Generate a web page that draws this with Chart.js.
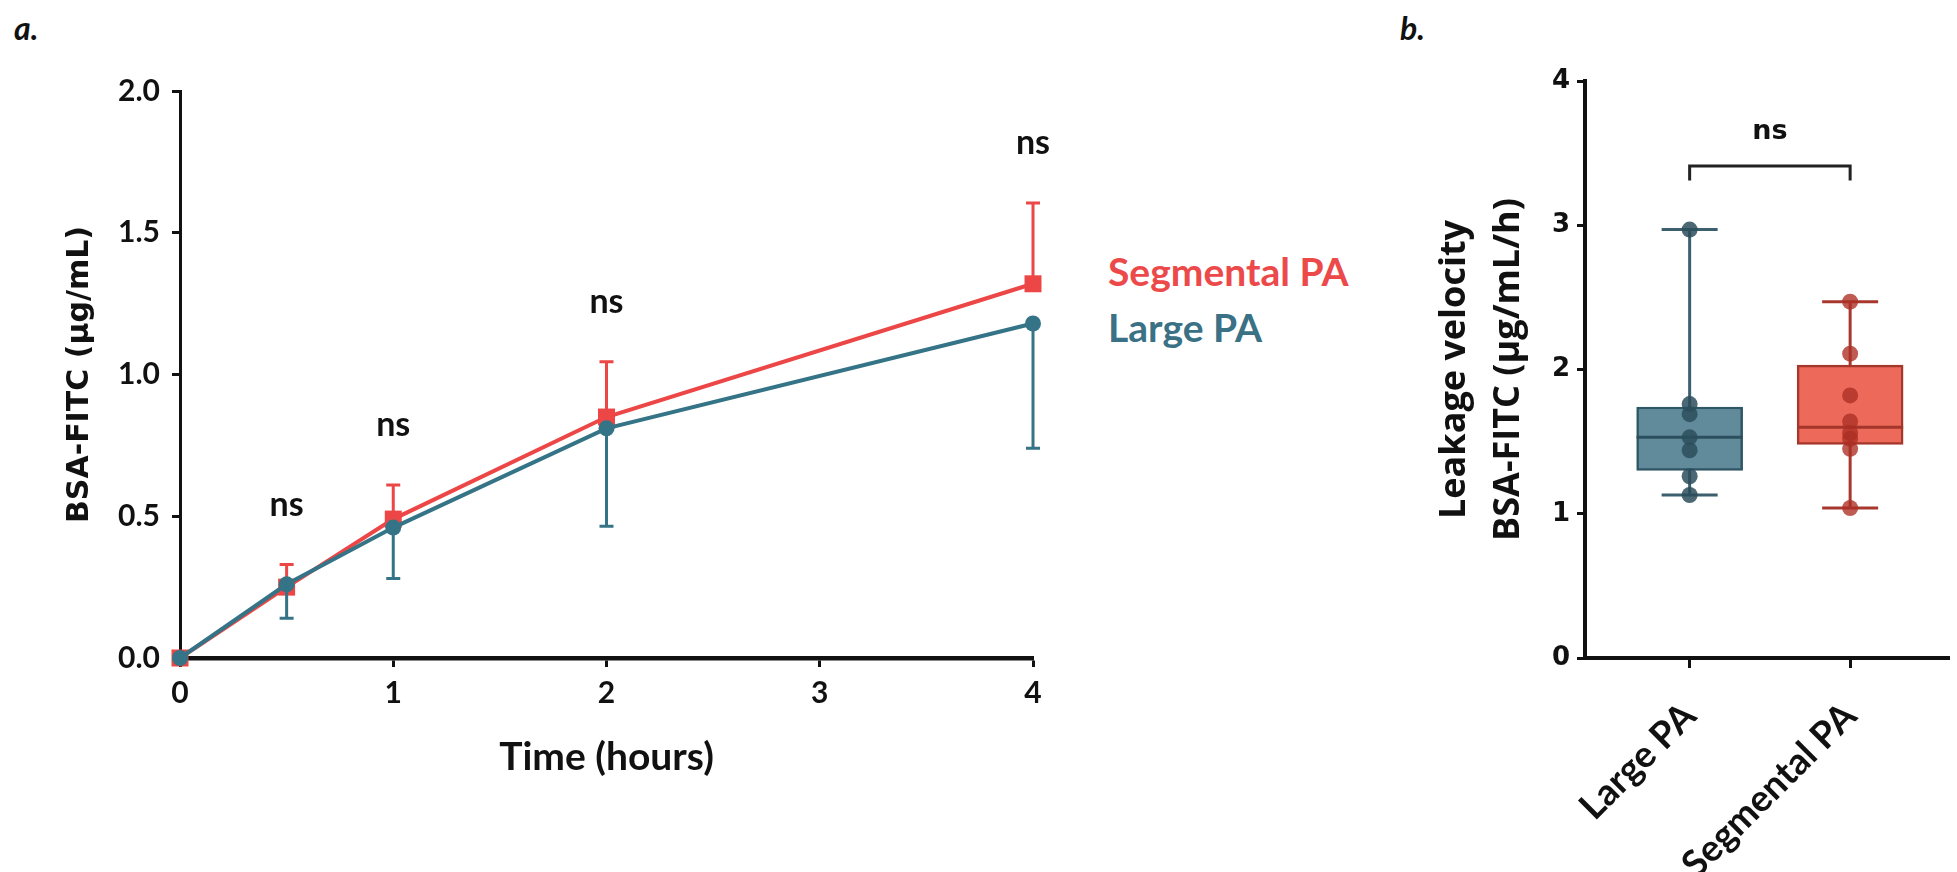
<!DOCTYPE html>
<html>
<head>
<meta charset="utf-8">
<script src="https://cdn.jsdelivr.net/npm/chart.js@4/dist/chart.umd.min.js"></script>
<style>
  html, body { margin: 0; padding: 0; background: #ffffff; width: 1957px; height: 872px; overflow: hidden; }
  .panel { position: absolute; top: 0; }
  #wa { left: 0; width: 1100px; height: 872px; }
  #wb { left: 1380px; width: 577px; height: 872px; }
  .tag { position: absolute; font-family: Lato, sans-serif; font-weight: bold; font-style: italic; font-size: 32px; line-height: 32px; color: #111; }
  .leg { position: absolute; font-family: Lato, sans-serif; font-weight: bold; font-size: 39px; line-height: 39px; white-space: nowrap; }
</style>
</head>
<body>
<div class="tag" style="left:14px; top:12px;">a.</div>
<div class="tag" style="left:1400px; top:12px;">b.</div>
<div class="leg" style="left:1108px; top:252px; color:#ec4a4a;">Segmental PA</div>
<div class="leg" style="left:1108px; top:308px; color:#3a7184;">Large PA</div>
<div class="panel" id="wa"><canvas id="ca" width="1100" height="872"></canvas></div>
<div class="panel" id="wb"><canvas id="cb" width="577" height="872"></canvas></div>
<script>
// ---------- Panel a data ----------
const times = [0, 0.5, 1, 2, 4];
const segmentalMean = [0, 0.25, 0.49, 0.85, 1.32];
const segmentalSD = [0, 0.08, 0.12, 0.195, 0.285];
const largeMean = [0, 0.26, 0.46, 0.81, 1.18];
const largeSD = [0, 0.12, 0.18, 0.345, 0.44];
const timeTicks = [0, 1, 2, 3, 4];
const concTicks = [0, 0.5, 1.0, 1.5, 2.0];

// ---------- Panel b data ----------
const groups = ['Large PA', 'Segmental PA'];
const groupPos = [1, 2];
const largePoints = [2.97, 1.76, 1.69, 1.53, 1.44, 1.26, 1.13];
const segmentalPoints = [2.47, 2.11, 1.82, 1.64, 1.56, 1.52, 1.45, 1.04];
const boxQ1 = [1.30, 1.48];
const boxMedian = [1.53, 1.60];
const boxQ3 = [1.74, 2.03];
const whiskerMin = [1.13, 1.04];
const whiskerMax = [2.97, 2.47];
const velocityTicks = [0, 1, 2, 3, 4];

// ---------- styles ----------
const RED = '#ec4646';
const TEAL = '#357487';
const INK = '#111111';
const whiskerColors = ['#3b5f6d', '#a8382d'];
const medianColors = ['#2c4f5d', '#a3352a'];

Chart.defaults.font.family = 'Lato, sans-serif';
Chart.defaults.color = INK;

const errorBars = {
  id: 'errorBars',
  afterDatasetDraw(chart, args) {
    const ds = chart.data.datasets[args.index];
    if (!ds.errorValues) return;
    const ys = chart.scales.y, ctx = chart.ctx;
    ctx.save();
    ctx.strokeStyle = ds.borderColor;
    ctx.lineWidth = 3;
    args.meta.data.forEach((pt, i) => {
      const e = ds.errorValues[i];
      if (!e) return;
      const end = ys.getPixelForValue(ds.data[i].y + ds.errorDirection * e);
      ctx.beginPath();
      ctx.moveTo(pt.x, pt.y);
      ctx.lineTo(pt.x, end);
      ctx.moveTo(pt.x - 7, end);
      ctx.lineTo(pt.x + 7, end);
      ctx.stroke();
    });
    ctx.restore();
  }
};

const nsLabelsA = {
  id: 'nsLabelsA',
  afterDatasetsDraw(chart) {
    const xs = chart.scales.x, ys = chart.scales.y, ctx = chart.ctx;
    ctx.save();
    ctx.font = 'bold 34px Lato, sans-serif';
    ctx.fillStyle = INK;
    ctx.textAlign = 'center';
    ctx.textBaseline = 'middle';
    times.forEach((t, i) => {
      if (t === 0) return;
      const top = Math.max(segmentalMean[i] + segmentalSD[i], largeMean[i]);
      ctx.fillText('ns', xs.getPixelForValue(t), ys.getPixelForValue(top + 0.21));
    });
    ctx.restore();
  }
};

new Chart(document.getElementById('ca'), {
  type: 'line',
  data: {
    datasets: [
      {
        label: 'Large PA',
        data: times.map((t, i) => ({ x: t, y: largeMean[i] })),
        borderColor: TEAL, backgroundColor: TEAL,
        borderWidth: 4, pointStyle: 'circle', pointRadius: 8, pointBorderWidth: 0,
        errorValues: largeSD, errorDirection: -1,
        order: 1, clip: false, tension: 0
      },
      {
        label: 'Segmental PA',
        data: times.map((t, i) => ({ x: t, y: segmentalMean[i] })),
        borderColor: RED, backgroundColor: RED,
        borderWidth: 4, pointStyle: 'rect', pointRadius: 12, pointBorderWidth: 0,
        errorValues: segmentalSD, errorDirection: 1,
        order: 2, clip: false, tension: 0
      }
    ]
  },
  options: {
    responsive: false, animation: false, events: [],
    layout: { padding: { top: 91, right: 67, left: 0, bottom: 0 } },
    plugins: { legend: { display: false }, tooltip: { enabled: false } },
    scales: {
      x: {
        type: 'linear', min: 0, max: 4, offset: false,
        afterBuildTicks(s) { s.ticks = timeTicks.map(v => ({ value: v })); },
        afterFit(s) { s.height = 214; s.paddingLeft = 0; s.paddingRight = 0; },
        border: { display: true, color: INK, width: 4.5 },
        grid: { display: true, offset: false, drawOnChartArea: false, drawTicks: true, tickLength: 9, tickWidth: 3, tickColor: INK },
        ticks: { color: INK, font: { size: 30, weight: 'bold' }, padding: 8, maxRotation: 0, autoSkip: false },
        title: { display: true, text: 'Time (hours)', color: INK, font: { size: 39, weight: 'bold' }, padding: { top: 0, bottom: 91 } }
      },
      y: {
        min: 0, max: 2,
        afterBuildTicks(s) { s.ticks = concTicks.map(v => ({ value: v })); },
        afterFit(s) { s.width = 180; s.paddingTop = 0; s.paddingBottom = 0; },
        border: { display: true, color: INK, width: 3 },
        grid: { display: true, drawOnChartArea: false, drawTicks: true, tickLength: 8, tickWidth: 3, tickColor: INK },
        ticks: { color: INK, font: { size: 30, weight: 'bold' }, padding: 12, callback: v => Number(v).toFixed(1) },
        title: { display: true, text: 'BSA-FITC (μg/mL)', color: INK, font: { family: 'DejaVu Sans', size: 30, weight: 'bold' }, padding: { top: 62, bottom: 0 } }
      }
    }
  },
  plugins: [errorBars, nsLabelsA]
});

// ---------- Panel b ----------
const boxExtras = {
  id: 'boxExtras',
  beforeDatasetsDraw(chart) {
    const xs = chart.scales.x, ys = chart.scales.y, ctx = chart.ctx;
    ctx.save();
    ctx.lineWidth = 3;
    groupPos.forEach((p, i) => {
      const x = xs.getPixelForValue(p);
      ctx.strokeStyle = whiskerColors[i];
      ctx.beginPath();
      ctx.moveTo(x, ys.getPixelForValue(whiskerMin[i]));
      ctx.lineTo(x, ys.getPixelForValue(whiskerMax[i]));
      [whiskerMin[i], whiskerMax[i]].forEach(v => {
        const y = ys.getPixelForValue(v);
        ctx.moveTo(x - 28, y);
        ctx.lineTo(x + 28, y);
      });
      ctx.stroke();
    });
    ctx.restore();
  },
  afterDatasetDraw(chart, args) {
    const ds = chart.data.datasets[args.index];
    if (!ds.medians) return;
    const ys = chart.scales.y, ctx = chart.ctx;
    ctx.save();
    ctx.lineWidth = 3;
    args.meta.data.forEach((el, i) => {
      const y = ys.getPixelForValue(ds.medians[i]);
      ctx.strokeStyle = medianColors[i];
      ctx.beginPath();
      ctx.moveTo(el.x - el.width / 2, y);
      ctx.lineTo(el.x + el.width / 2, y);
      ctx.stroke();
    });
    ctx.restore();
  },
  afterDraw(chart) {
    const xs = chart.scales.x, ys = chart.scales.y, ctx = chart.ctx;
    const top = Math.max(...whiskerMax);
    const yb = ys.getPixelForValue(top + 0.44);
    const yl = ys.getPixelForValue(top + 0.34);
    const x1 = xs.getPixelForValue(groupPos[0]);
    const x2 = xs.getPixelForValue(groupPos[1]);
    ctx.save();
    ctx.strokeStyle = '#222';
    ctx.lineWidth = 3;
    ctx.beginPath();
    ctx.moveTo(x1, yl); ctx.lineTo(x1, yb); ctx.lineTo(x2, yb); ctx.lineTo(x2, yl);
    ctx.stroke();
    ctx.font = 'bold 27px "DejaVu Sans", sans-serif';
    ctx.fillStyle = INK;
    ctx.textAlign = 'center';
    ctx.textBaseline = 'middle';
    ctx.fillText('ns', (x1 + x2) / 2, ys.getPixelForValue(top + 0.68));
    ctx.restore();
  }
};

new Chart(document.getElementById('cb'), {
  type: 'bar',
  data: {
    datasets: [
      {
        type: 'scatter', label: 'Large PA',
        data: largePoints.map(v => ({ x: groupPos[0], y: v })),
        pointRadius: 8, pointBorderWidth: 0,
        backgroundColor: 'rgba(44,78,92,0.85)', borderColor: 'rgba(44,78,92,0.85)',
        order: 1, clip: false
      },
      {
        type: 'scatter', label: 'Segmental PA',
        data: segmentalPoints.map(v => ({ x: groupPos[1], y: v })),
        pointRadius: 8, pointBorderWidth: 0,
        backgroundColor: 'rgba(172,46,36,0.78)', borderColor: 'rgba(172,46,36,0.78)',
        order: 1, clip: false
      },
      {
        type: 'bar', label: 'IQR',
        data: groupPos.map((p, i) => ({ x: p, y: [boxQ1[i], boxQ3[i]] })),
        medians: boxMedian,
        backgroundColor: ['rgb(97,138,155)', 'rgb(237,106,90)'],
        borderColor: ['#2f5665', '#a5372c'],
        borderWidth: 2.5, borderSkipped: false,
        barThickness: 106, order: 3
      }
    ]
  },
  options: {
    responsive: false, animation: false, events: [],
    layout: { padding: { top: 81, right: 0, left: 0, bottom: 0 } },
    plugins: { legend: { display: false }, tooltip: { enabled: false } },
    scales: {
      x: {
        type: 'linear', min: 0.348, max: 2.616, offset: false,
        afterBuildTicks(s) { s.ticks = groupPos.map(v => ({ value: v })); },
        afterFit(s) { s.height = 214; s.paddingLeft = 0; s.paddingRight = 0; },
        border: { display: true, color: INK, width: 4 },
        grid: { display: true, offset: false, drawOnChartArea: false, drawTicks: true, tickLength: 10, tickWidth: 3, tickColor: INK },
        ticks: {
          color: INK, font: { size: 37, weight: 'bold' }, padding: 26,
          minRotation: 45, maxRotation: 45, autoSkip: false,
          callback: v => groups[groupPos.indexOf(v)]
        }
      },
      y: {
        min: 0, max: 4,
        afterBuildTicks(s) { s.ticks = velocityTicks.map(v => ({ value: v })); },
        afterFit(s) { s.width = 205; s.paddingTop = 0; s.paddingBottom = 0; },
        border: { display: true, color: INK, width: 4 },
        grid: { display: true, drawOnChartArea: false, drawTicks: true, tickLength: 8, tickWidth: 3, tickColor: INK },
        ticks: { color: INK, font: { family: 'DejaVu Sans', size: 26, weight: 'bold' }, padding: 7 },
        title: {
          display: true, text: ['Leakage velocity', 'BSA-FITC (μg/mL/h)'], color: INK,
          font: { family: '"Open Sans", sans-serif', size: 36, weight: 'bold', lineHeight: '54px' }, padding: { top: 48, bottom: 0 }
        }
      }
    }
  },
  plugins: [boxExtras]
});
</script>
</body>
</html>
